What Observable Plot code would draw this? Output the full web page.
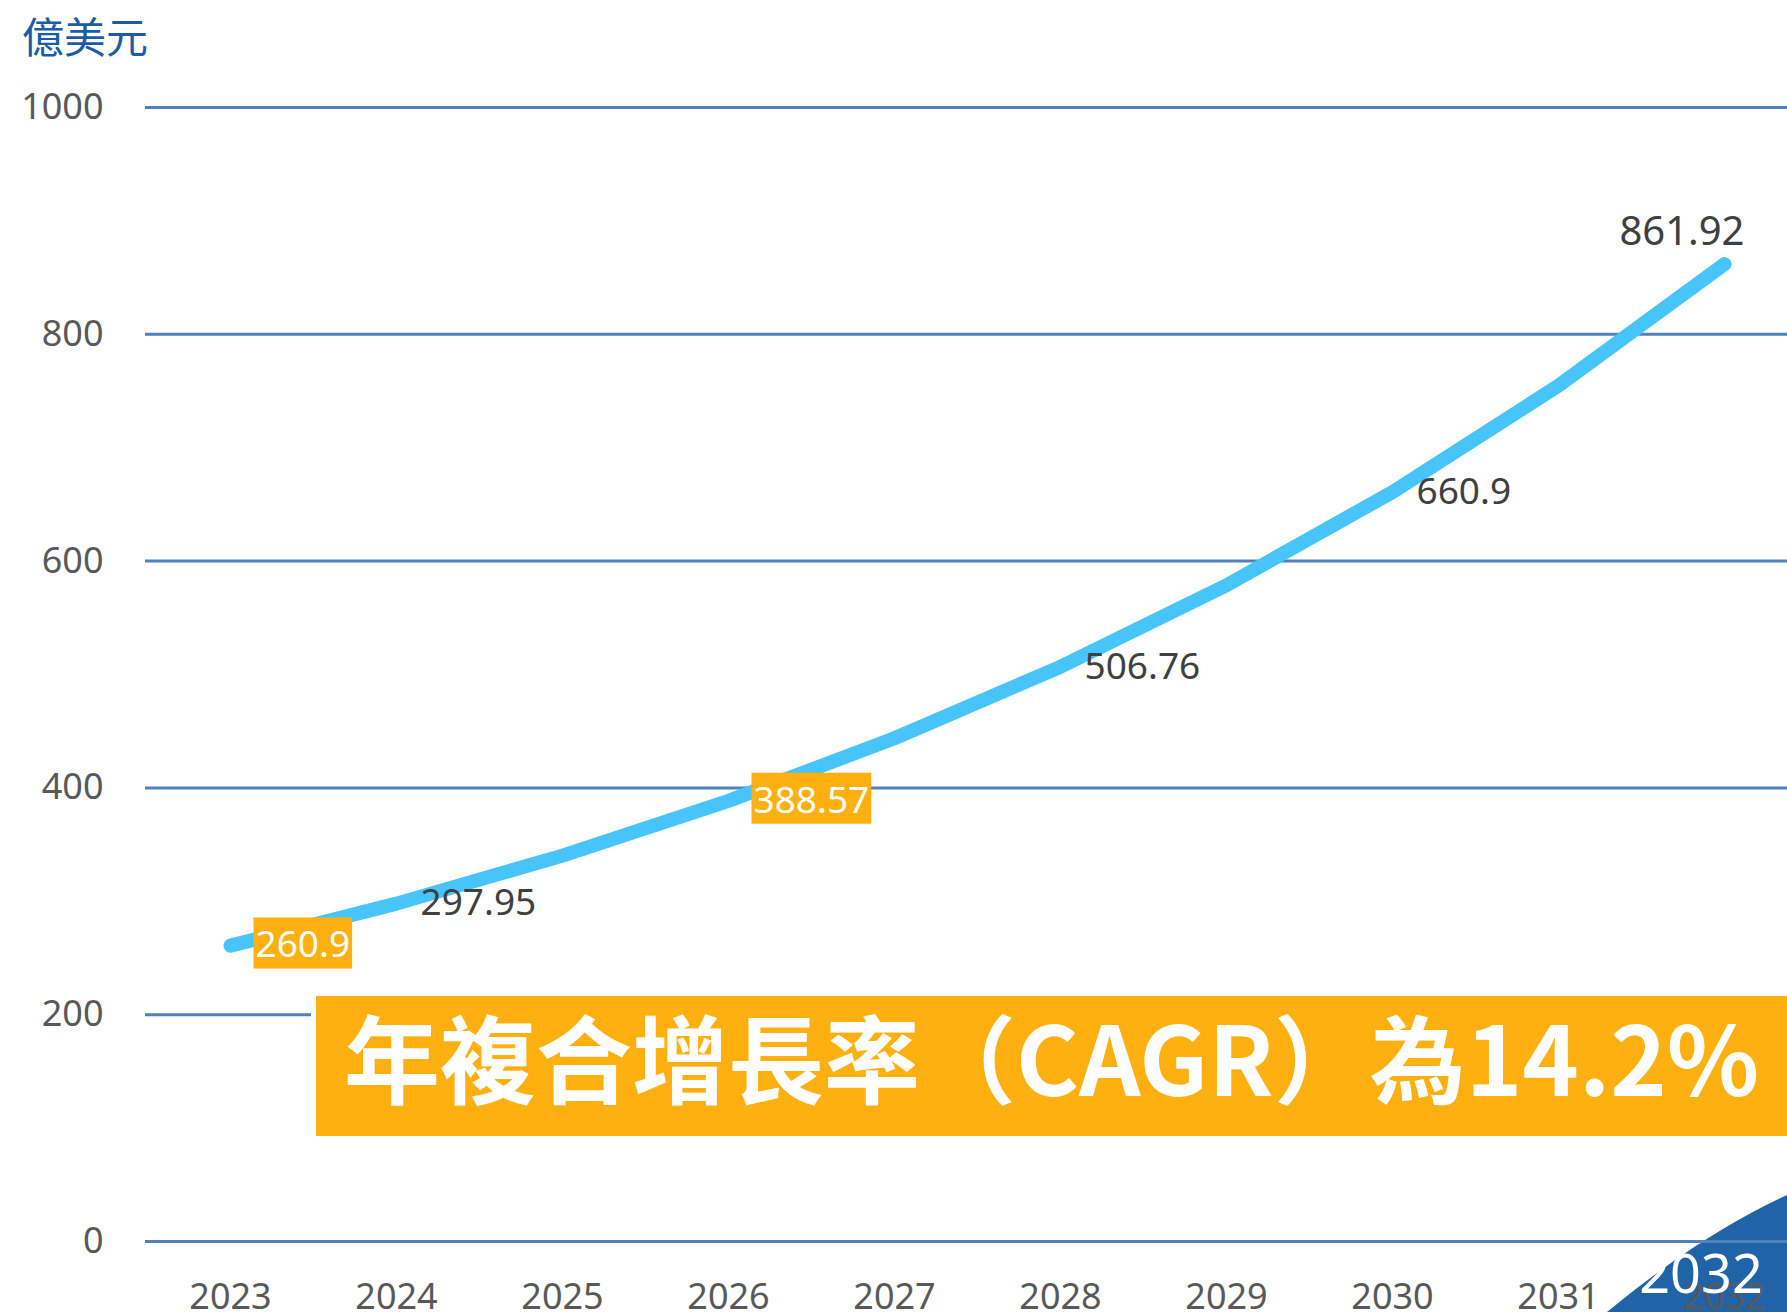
<!DOCTYPE html>
<html>
<head>
<meta charset="utf-8">
<script src="https://cdn.jsdelivr.net/npm/d3@7"></script>
<script src="https://cdn.jsdelivr.net/npm/@observablehq/plot@0.6"></script>
<style>
html, body { margin: 0; padding: 0; background: #fff; }
#root { position: relative; width: 1787px; height: 1312px; overflow: hidden; font-family: "Noto Sans", "Noto Sans CJK TC", sans-serif; }
#title { position: relative; z-index: 1; height: 70px; line-height: 70px; padding-left: 22px; font-size: 42px; color: #1a5ca8; font-family: "Noto Sans CJK TC", sans-serif; }
#deco { position: absolute; left: 0; top: 0; z-index: 0; }
#chart { position: relative; z-index: 1; }
#banner { position: absolute; z-index: 2; left: 316px; top: 996px; width: 1471px; height: 140px; background: #fdb010; box-shadow: 0 0 0 5px #fff; color: #fff; font-family: "Noto Sans CJK TC", sans-serif; font-weight: 700; font-size: 96px; line-height: 118px; padding-left: 28px; box-sizing: border-box; white-space: nowrap; overflow: hidden; }
#overlay { position: absolute; left: 0; top: 0; z-index: 3; pointer-events: none; }
</style>
</head>
<body>
<div id="root">
  <svg id="deco" width="1787" height="1312"><path d="M1607,1312 Q1700,1235 1787,1195 L1787,1312 Z" fill="#2063a7"/></svg>
  <div id="title"></div>
  <div id="chart"></div>
  <div id="banner"></div>
  <svg id="overlay" width="1787" height="1312"><text id="cornerText" x="1701" y="1293" text-anchor="middle" font-size="54" fill="#fff" font-family="Noto Sans, sans-serif"></text></svg>
</div>
<script>
// ---- data ----
const years = ["2023", "2024", "2025", "2026", "2027", "2028", "2029", "2030", "2031", "2032"];
const values = [260.9, 297.95, 340.26, 388.57, 443.75, 506.76, 578.72, 660.9, 754.75, 861.92];
const plainLabelYears = ["2024", "2028", "2030"];
const boxedLabelYears = ["2023", "2026"];
const topLabelYears = ["2032"];
const yTicks = [0, 200, 400, 600, 800, 1000];
const unitLabel = "億美元";
const cagrText = "年複合增長率（CAGR）為14.2%";
const cornerLabel = "2032";

const data = years.map((year, i) => ({year, value: values[i], label: String(values[i])}));
const pick = (list) => data.filter(d => list.includes(d.year));

document.getElementById("title").textContent = unitLabel;
document.getElementById("banner").textContent = cagrText;
document.getElementById("cornerText").textContent = cornerLabel;

const chart = Plot.plot({
  width: 1787,
  height: 1242,
  marginTop: 37,
  marginBottom: 71,
  marginLeft: 145,
  marginRight: 0,
  style: {background: "transparent", fontSize: "36px", fontFamily: "'Noto Sans', 'Noto Sans CJK TC', sans-serif", color: "#595959", overflow: "visible"},
  x: {type: "point", domain: years, range: [227, 1727], padding: 0, tickSize: 0, tickPadding: 42, label: null},
  y: {domain: [0, 1000], ticks: yTicks, tickFormat: d => String(d), tickSize: 0, tickPadding: 42, label: null},
  marks: [
    Plot.ruleY(yTicks, {stroke: "#4f81bd", strokeWidth: 3}),
    Plot.line(data, {x: "year", y: "value", stroke: "#47c5fb", strokeWidth: 14, strokeLinecap: "round", strokeLinejoin: "round"}),
    Plot.text(pick(plainLabelYears), {x: "year", y: "value", text: "label", dx: 24, textAnchor: "start", fill: "#404040", fontSize: 37}),
    Plot.text(pick(boxedLabelYears), {x: "year", y: "value", text: "label", dx: 25, textAnchor: "start", fill: "#ffffff", fontSize: 37, ariaDescription: "boxed"}),
    Plot.text(pick(topLabelYears), {x: "year", y: "value", text: "label", dx: 20, dy: -32, textAnchor: "end", fill: "#404040", fontSize: 40})
  ]
});
document.getElementById("chart").appendChild(chart);

// orange backgrounds behind the boxed labels
chart.querySelectorAll('g[aria-description="boxed"] text').forEach(t => {
  const b = t.getBBox();
  const r = document.createElementNS("http://www.w3.org/2000/svg", "rect");
  r.setAttribute("x", b.x - 2);
  r.setAttribute("y", b.y);
  r.setAttribute("width", b.width + 4);
  r.setAttribute("height", b.height);
  r.setAttribute("fill", "#fdb010");
  if (t.getAttribute("transform")) r.setAttribute("transform", t.getAttribute("transform"));
  t.parentNode.insertBefore(r, t);
});
</script>
</body>
</html>
